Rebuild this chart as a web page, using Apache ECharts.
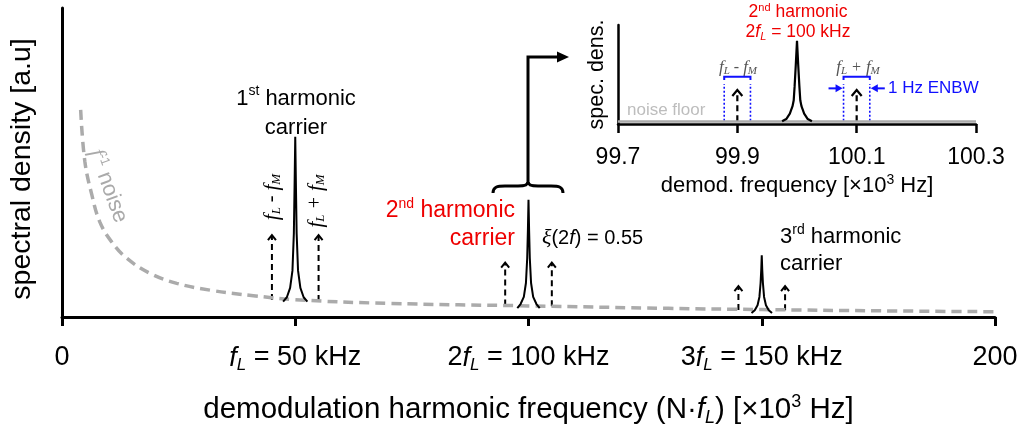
<!DOCTYPE html>
<html>
<head>
<meta charset="utf-8">
<script src="https://cdn.jsdelivr.net/npm/echarts@6/dist/echarts.min.js"></script>
<style>
  html, body { margin: 0; padding: 0; background: #fff; }
  #main { width: 1024px; height: 435px; }
</style>
</head>
<body>
<div id="main"></div>
<script>
// main spectrum: x in kHz, y in arbitrary units (0..100)
var mainTickValues = [0, 50, 100, 150, 200];
var mainTickLabels = ['0', '{i|f}{sub|L} = 50 kHz', '2{i|f}{sub|L} = 100 kHz', '3{i|f}{sub|L} = 150 kHz', '200'];

// 1/f noise
var noiseCurve = [
  [4.0, 67], [4.9, 50.3], [6.4, 39.5], [8.1, 30.8], [10.6, 24.4], [13.9, 19],
  [18.9, 14.1], [24.6, 10.9], [31.7, 8.7], [41, 6.9], [50, 5.6], [70, 4.4],
  [100, 3.6], [130, 2.8], [150, 2.4], [175, 2.0], [200, 1.7]
];

var peak1 = [
  [47.4, 5.0], [48.2, 6.4], [48.9, 9.4], [49.4, 15], [49.7, 27], [49.85, 42], [50, 58.3],
  [50.15, 42], [50.3, 27], [50.6, 15], [51.1, 9.4], [51.8, 6.4], [52.6, 5.0]
];
var peak2 = [
  [97.6, 2.9], [98.3, 4.2], [99, 6.5], [99.45, 11], [99.72, 19], [99.87, 28], [100, 37.9],
  [100.13, 28], [100.28, 19], [100.55, 11], [101, 6.5], [101.7, 4.2], [102.4, 2.9]
];
var peak3 = [
  [147.8, 1.3], [148.5, 2.2], [149.1, 3.8], [149.5, 6.5], [149.75, 11], [149.9, 15.5], [150, 20],
  [150.1, 15.5], [150.25, 11], [150.5, 6.5], [150.9, 3.8], [151.5, 2.2], [152.2, 1.3]
];

// sideband arrows: [freq, bottom, tip]
var sidebandArrows = [
  [45, 5.5, 26.5], [55, 5.2, 26.5],
  [95, 3.7, 17.6], [105, 3.5, 17.6],
  [145, 2.3, 10], [155, 2.2, 10]
];

// inset: x in x10^3 Hz around 100 kHz
var insetTickValues = [99.7, 99.9, 100.1, 100.3];
var insetTickLabels = ['99.7', '99.9', '100.1', '100.3'];
var noiseFloor = [[99.7, 2.6], [100.3, 2.6]];
var insetPeak = [
  [99.975, 2.7], [99.982, 5], [99.988, 10.5], [99.9925, 18], [99.9945, 24], [99.996, 38], [99.998, 60], [100, 84],
  [100.002, 60], [100.004, 38], [100.0055, 24], [100.0075, 18], [100.012, 10.5], [100.018, 5], [100.025, 2.7]
];
var insetArrows = [[99.9, 2.7, 34.3], [100.1, 2.7, 34.3]];
// ENBW bands: [low, high, show side arrows]
var enbwBands = [[99.878, 99.922, 0], [100.078, 100.122, 1]];

var dom = document.getElementById('main');
var myChart = echarts.init(dom, null, { renderer: 'canvas' });

var SANS = 'Liberation Sans';
var SERIF = 'Liberation Serif';

function tickFormatter(values, labels) {
  return function (v) {
    for (var k = 0; k < values.length; k++) {
      if (Math.abs(values[k] - v) < 1e-6) return labels[k];
    }
    return '';
  };
}

function renderArrow(size) {
  return function (params, api) {
    var p0 = api.coord([api.value(0), api.value(1)]);
    var p1 = api.coord([api.value(0), api.value(2)]);
    return {
      type: 'group',
      children: [
        { type: 'line', shape: { x1: p0[0], y1: p0[1], x2: p1[0], y2: p1[1] + 1 },
          style: { stroke: '#000', lineWidth: size.w, lineDash: size.dash } },
        { type: 'polyline', shape: { points: [[p1[0] - size.hw, p1[1] + size.h], [p1[0], p1[1]], [p1[0] + size.hw, p1[1] + size.h]] },
          style: { stroke: '#000', lineWidth: size.w, fill: null } }
      ]
    };
  };
}

function renderBand(params, api) {
  var lo = api.value(0), hi = api.value(1);
  var blue = '#1010ff';
  var l0 = api.coord([lo, 3.3]), l1 = api.coord([lo, 40.4]);
  var h0 = api.coord([hi, 3.3]), h1 = api.coord([hi, 40.4]);
  var bl = api.coord([lo, 44.4]), bt = api.coord([lo, 47.8]);
  var hl = api.coord([hi, 44.4]), ht = api.coord([hi, 47.8]);
  var kids = [
    { type: 'line', shape: { x1: l0[0], y1: l0[1], x2: l1[0], y2: l1[1] }, style: { stroke: blue, lineWidth: 1.6, lineDash: [2, 2] } },
    { type: 'line', shape: { x1: h0[0], y1: h0[1], x2: h1[0], y2: h1[1] }, style: { stroke: blue, lineWidth: 1.6, lineDash: [2, 2] } },
    { type: 'polyline', shape: { points: [bl, bt, ht, hl] }, style: { stroke: blue, lineWidth: 2, fill: null } }
  ];
  if (api.value(2)) {
    var ya = api.coord([lo, 36])[1];
    var xl = l0[0] - 1, xr = h0[0] + 1;
    kids.push(
      { type: 'line', shape: { x1: xl - 14, y1: ya, x2: xl - 5, y2: ya }, style: { stroke: blue, lineWidth: 2 } },
      { type: 'polygon', shape: { points: [[xl, ya], [xl - 7, ya - 4], [xl - 7, ya + 4]] }, style: { fill: blue } },
      { type: 'line', shape: { x1: xr + 14, y1: ya, x2: xr + 5, y2: ya }, style: { stroke: blue, lineWidth: 2 } },
      { type: 'polygon', shape: { points: [[xr, ya], [xr + 7, ya - 4], [xr + 7, ya + 4]] }, style: { fill: blue } }
    );
  }
  return { type: 'group', children: kids };
}

function lineSeries(data, xi, color, width, dash) {
  return {
    type: 'line', data: data, xAxisIndex: xi, yAxisIndex: xi,
    showSymbol: false, symbol: 'none', silent: true, animation: false,
    lineStyle: { color: color, width: width, type: dash || 'solid' }
  };
}

function supRich(size, color) {
  return { fontSize: size, lineHeight: size, verticalAlign: 'top', fill: color };
}

var braceStyle = { stroke: '#000', lineWidth: 3, fill: null };
var RED = '#ee0000';

var option = {
  animation: false,
  textStyle: { fontFamily: SANS },
  grid: [
    { left: 62, right: 29, top: 8, bottom: 118 },
    { left: 618, right: 48, top: 25, height: 99 }
  ],
  xAxis: [
    {
      type: 'value', gridIndex: 0, min: 0, max: 200, interval: 50,
      splitLine: { show: false },
      axisLine: { lineStyle: { color: '#000', width: 3 } },
      axisTick: { length: 9, lineStyle: { color: '#000', width: 3 } },
      axisLabel: {
        color: '#000', fontSize: 27, lineHeight: 32, margin: 25,
        formatter: tickFormatter(mainTickValues, mainTickLabels),
        rich: {
          i: { fontStyle: 'italic', fontSize: 27, lineHeight: 32 },
          sub: { fontStyle: 'italic', fontSize: 17, lineHeight: 17, verticalAlign: 'bottom' }
        }
      },
      name: 'demodulation harmonic frequency (N·{i|f}{sub|L}) [×10{sup|3} Hz]',
      nameLocation: 'middle', nameGap: 76,
      nameTextStyle: { color: '#000', fontSize: 29.5, lineHeight: 34, rich: {
        i: { fontStyle: 'italic', fontSize: 29.5, lineHeight: 34 },
        sub: { fontStyle: 'italic', fontSize: 18, lineHeight: 18, verticalAlign: 'bottom' },
        sup: { fontSize: 18, lineHeight: 18, verticalAlign: 'top' }
      } }
    },
    {
      type: 'value', gridIndex: 1, min: 99.7, max: 100.3, interval: 0.2,
      splitLine: { show: false },
      axisLine: { lineStyle: { color: '#000', width: 2.5 } },
      axisTick: { length: 9, lineStyle: { color: '#000', width: 2.5 } },
      axisLabel: { color: '#000', fontSize: 23, margin: 22, formatter: tickFormatter(insetTickValues, insetTickLabels) },
      name: 'demod. frequency [×10{sup|3} Hz]',
      nameLocation: 'middle', nameGap: 49,
      nameTextStyle: { color: '#000', fontSize: 22, lineHeight: 25, rich: {
        sup: { fontSize: 14, lineHeight: 14, verticalAlign: 'top' }
      } }
    }
  ],
  yAxis: [
    {
      type: 'value', gridIndex: 0, min: 0, max: 100,
      splitLine: { show: false }, axisTick: { show: false }, axisLabel: { show: false },
      axisLine: { show: true, lineStyle: { color: '#000', width: 3 } }
    },
    {
      type: 'value', gridIndex: 1, min: 0, max: 100,
      splitLine: { show: false }, axisTick: { show: false }, axisLabel: { show: false },
      axisLine: { show: true, lineStyle: { color: '#000', width: 2.5 } },
      name: 'spec. dens.', nameLocation: 'middle', nameGap: 10,
      nameTextStyle: { color: '#000', fontSize: 21.5 }
    }
  ],
  series: [
    Object.assign(lineSeries(noiseCurve, 0, '#ababab', 3.5, [10, 6]), { smooth: 0.4 }),
    lineSeries(peak1, 0, '#000', 2),
    lineSeries(peak2, 0, '#000', 2),
    lineSeries(peak3, 0, '#000', 2),
    {
      type: 'custom', xAxisIndex: 0, yAxisIndex: 0, silent: true,
      renderItem: renderArrow({ w: 2, hw: 4, h: 5, dash: [6, 4] }), data: sidebandArrows
    },
    lineSeries(noiseFloor, 1, '#aaaaaa', 2.5),
    lineSeries(insetPeak, 1, '#000', 2.2),
    {
      type: 'custom', xAxisIndex: 1, yAxisIndex: 1, silent: true,
      renderItem: renderArrow({ w: 2.2, hw: 5, h: 6, dash: [6, 4] }), data: insetArrows
    },
    {
      type: 'custom', xAxisIndex: 1, yAxisIndex: 1, silent: true,
      renderItem: renderBand, data: enbwBands
    }
  ],
  graphic: [
    { type: 'text', x: 22, y: 169, rotation: Math.PI / 2, style: {
      text: 'spectral density [a.u]', fill: '#000', font: '28.5px ' + SANS,
      align: 'center', verticalAlign: 'middle' } },
    { type: 'text', x: 296, y: 113, style: {
      text: '1{sup|st} harmonic\ncarrier', fill: '#000', font: '22px ' + SANS, lineHeight: 29,
      align: 'center', verticalAlign: 'middle', rich: { sup: supRich(14, '#000') } } },
    { type: 'text', x: 515, y: 225, style: {
      text: '2{sup|nd} harmonic\ncarrier', fill: RED, font: '23px ' + SANS, lineHeight: 28,
      align: 'right', verticalAlign: 'middle', rich: { sup: supRich(14, RED) } } },
    { type: 'text', x: 542, y: 238, style: {
      text: '{g|ξ}(2{i|f}) = 0.55', fill: '#000', font: '20px ' + SANS, verticalAlign: 'middle',
      rich: { g: { fontStyle: 'italic', fontFamily: SERIF, fontSize: 22, fill: '#000' },
              i: { fontStyle: 'italic', fontSize: 20, fill: '#000' } } } },
    { type: 'text', x: 780, y: 250, style: {
      text: '3{sup|rd} harmonic\ncarrier', fill: '#000', font: '22px ' + SANS, lineHeight: 27,
      align: 'left', verticalAlign: 'middle', rich: { sup: supRich(14, '#000') } } },
    { type: 'text', x: 108, y: 186, rotation: -70 * Math.PI / 180, style: {
      text: '{i|f}{sup|-1} noise', fill: '#aaaaaa', font: '22px ' + SANS,
      align: 'center', verticalAlign: 'middle',
      rich: { i: { fontStyle: 'italic', fontFamily: SERIF, fontSize: 23, fill: '#aaaaaa' },
              sup: supRich(13, '#aaaaaa') } } },
    { type: 'text', x: 272, y: 197, rotation: Math.PI / 2, style: {
      text: '{i|f}{sub|L} - {i|f}{sub|M}', fill: '#000', font: 'italic 20px ' + SERIF,
      align: 'center', verticalAlign: 'middle',
      rich: { i: { fontStyle: 'italic', fontSize: 21, lineHeight: 22, fill: '#000', fontFamily: SERIF },
              sub: { fontStyle: 'italic', fontSize: 13, lineHeight: 13, verticalAlign: 'bottom', fill: '#000', fontFamily: SERIF } } } },
    { type: 'text', x: 316, y: 201, rotation: Math.PI / 2, style: {
      text: '{i|f}{sub|L} + {i|f}{sub|M}', fill: '#000', font: 'italic 20px ' + SERIF,
      align: 'center', verticalAlign: 'middle',
      rich: { i: { fontStyle: 'italic', fontSize: 21, lineHeight: 22, fill: '#000', fontFamily: SERIF },
              sub: { fontStyle: 'italic', fontSize: 13, lineHeight: 13, verticalAlign: 'bottom', fill: '#000', fontFamily: SERIF } } } },
    { type: 'text', x: 798, y: 22.5, style: {
      text: '2{sup|nd} harmonic\n2{i|f}{sub|L} = 100 kHz', fill: RED, font: '17.5px ' + SANS, lineHeight: 20,
      align: 'center', verticalAlign: 'middle',
      rich: { sup: supRich(11, RED),
              i: { fontStyle: 'italic', fontSize: 17.5, lineHeight: 20, fill: RED },
              sub: { fontStyle: 'italic', fontSize: 11, lineHeight: 11, verticalAlign: 'bottom', fill: RED } } } },
    { type: 'text', x: 627, y: 110, style: {
      text: 'noise floor', fill: '#bdbdbd', font: '17px ' + SANS, align: 'left', verticalAlign: 'middle' } },
    { type: 'text', x: 738, y: 68, style: {
      text: '{i|f}{sub|L} - {i|f}{sub|M}', fill: '#555', font: 'italic 16px ' + SERIF,
      align: 'center', verticalAlign: 'middle',
      rich: { i: { fontStyle: 'italic', fontSize: 17, lineHeight: 18, fill: '#555', fontFamily: SERIF },
              sub: { fontStyle: 'italic', fontSize: 11, lineHeight: 11, verticalAlign: 'bottom', fill: '#555', fontFamily: SERIF } } } },
    { type: 'text', x: 858, y: 68, style: {
      text: '{i|f}{sub|L} + {i|f}{sub|M}', fill: '#555', font: 'italic 16px ' + SERIF,
      align: 'center', verticalAlign: 'middle',
      rich: { i: { fontStyle: 'italic', fontSize: 17, lineHeight: 18, fill: '#555', fontFamily: SERIF },
              sub: { fontStyle: 'italic', fontSize: 11, lineHeight: 11, verticalAlign: 'bottom', fill: '#555', fontFamily: SERIF } } } },
    { type: 'text', x: 888, y: 88, style: {
      text: '1 Hz ENBW', fill: '#1010ff', font: '17px ' + SANS, align: 'left', verticalAlign: 'middle' } },
    // brace over the 2nd harmonic and the arrow to the inset
    { type: 'bezierCurve', shape: { x1: 493, y1: 193, cpx1: 493, cpy1: 187, cpx2: 497, cpy2: 186, x2: 505, y2: 186 }, style: braceStyle },
    { type: 'line', shape: { x1: 505, y1: 186, x2: 518, y2: 186 }, style: braceStyle },
    { type: 'bezierCurve', shape: { x1: 518, y1: 186, cpx1: 525, cpy1: 186, cpx2: 528, cpy2: 185, x2: 528, y2: 182 }, style: braceStyle },
    { type: 'bezierCurve', shape: { x1: 528, y1: 182, cpx1: 528, cpy1: 185, cpx2: 531, cpy2: 186, x2: 538, y2: 186 }, style: braceStyle },
    { type: 'line', shape: { x1: 538, y1: 186, x2: 551, y2: 186 }, style: braceStyle },
    { type: 'bezierCurve', shape: { x1: 551, y1: 186, cpx1: 559, cpy1: 186, cpx2: 563, cpy2: 187, x2: 563, y2: 193 }, style: braceStyle },
    { type: 'polyline', shape: { points: [[528, 183], [528, 57], [560, 57]] }, style: braceStyle },
    { type: 'polygon', shape: { points: [[569, 57], [557, 51.5], [557, 62.5]] }, style: { fill: '#000' } }
  ]
};

myChart.setOption(option);
</script>
</body>
</html>
